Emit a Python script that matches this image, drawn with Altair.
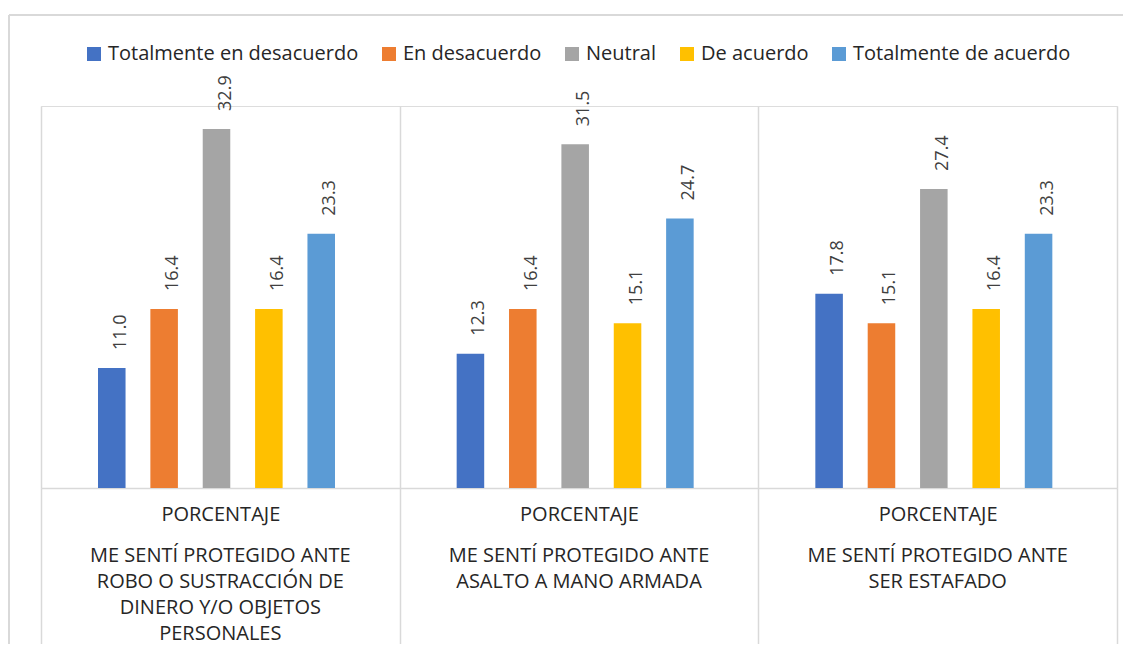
import altair as alt
import pandas as pd

series = ["Totalmente en desacuerdo", "En desacuerdo", "Neutral", "De acuerdo", "Totalmente de acuerdo"]
colors = ["#4472C4", "#ED7D31", "#A5A5A5", "#FFC000", "#5B9BD5"]

group_lines = [
    ["ME SENTÍ PROTEGIDO ANTE", "ROBO O SUSTRACCIÓN DE", "DINERO Y/O OBJETOS", "PERSONALES"],
    ["ME SENTÍ PROTEGIDO ANTE", "ASALTO A MANO ARMADA"],
    ["ME SENTÍ PROTEGIDO ANTE", "SER ESTAFADO"],
]
inner_label = "PORCENTAJE"

values_g1 = [11.0, 16.4, 32.9, 16.4, 23.3]
values_g2 = [12.3, 16.4, 31.5, 15.1, 24.7]
values_g3 = [17.8, 15.1, 27.4, 16.4, 23.3]

groups = ["|".join(g) for g in group_lines]
rows = []
for g, vals in zip(groups, [values_g1, values_g2, values_g3]):
    for s, v in zip(series, vals):
        rows.append({"grupo": g, "serie": s, "valor": v})
df = pd.DataFrame(rows)

W, H = 1076, 382
FONT = "Open Sans"
GRID = "#d9d9d9"

x_bar = alt.X(
    "grupo:N", sort=groups, title=None,
    scale=alt.Scale(paddingInner=0, paddingOuter=0),
    axis=alt.Axis(
        orient="bottom",
        labelExpr=f"datum.label ? '{inner_label}' : ''",
        labelAngle=0,
        labelFont=FONT, labelFontSize=20, labelColor="#262626",
        labelPadding=-144, labelLimit=400,
        grid=True, gridColor=GRID, gridWidth=1.5,
        ticks=True, tickBand="extent", tickSize=160, tickColor=GRID, tickWidth=1.5,
        domain=True, domainColor=GRID, domainWidth=1.5,
    ),
)
x_txt = alt.X(
    "grupo:N", sort=groups, title=None,
    scale=alt.Scale(paddingInner=0, paddingOuter=0),
    axis=alt.Axis(
        orient="bottom", labelExpr="split(datum.label, '|')", labelAngle=0,
        labelFont=FONT, labelFontSize=20, labelColor="#262626",
        labelLineHeight=26, labelPadding=57, labelLimit=500,
        grid=False, ticks=False, domain=False,
    ),
)
xoff = alt.XOffset(
    "serie:N", sort=series,
    scale=alt.Scale(paddingInner=0.474, paddingOuter=0, range=[57, 294]),
)
y = alt.Y("valor:Q", scale=alt.Scale(domain=[0, 35]), axis=None)

bars = alt.Chart(df).mark_bar().encode(
    x=x_bar, xOffset=xoff, y=y,
    color=alt.Color(
        "serie:N", sort=series,
        scale=alt.Scale(domain=series, range=colors),
        legend=alt.Legend(
            title=None, orient="none", direction="horizontal",
            legendX=43, legendY=-62,
            symbolType="square", symbolSize=196, symbolStrokeWidth=0,
            labelFont=FONT, labelFontSize=20, labelColor="#262626",
            labelOffset=4, columnPadding=20, labelLimit=400,
        ),
    ),
)

labels = alt.Chart(df).mark_text(
    angle=270, align="left", baseline="middle", dx=18, dy=9,
    font=FONT, fontSize=18, color="#404040",
).encode(
    x=x_txt, xOffset=xoff, y=y,
    text=alt.Text("valor:Q", format=".1f"),
)

border_top = alt.Chart(df).mark_rule(color=GRID, strokeWidth=2).encode(
    x=alt.value(-32), x2=alt.value(W + 10), y=alt.value(-91)
)
border_left = alt.Chart(df).mark_rule(color=GRID, strokeWidth=2).encode(
    x=alt.value(-32), y=alt.value(-91), y2=alt.value(H + 170)
)

chart = alt.layer(bars, labels, border_top, border_left).resolve_axis(x="independent").properties(
    width=W, height=H,
    autosize=alt.AutoSizeParams(type="none"),
    padding={"left": 33, "top": 98, "right": 6, "bottom": 156},
).configure_view(stroke=None).configure(background="white")

chart.save("out.html", embed_options={"renderer": "svg", "actions": False})
